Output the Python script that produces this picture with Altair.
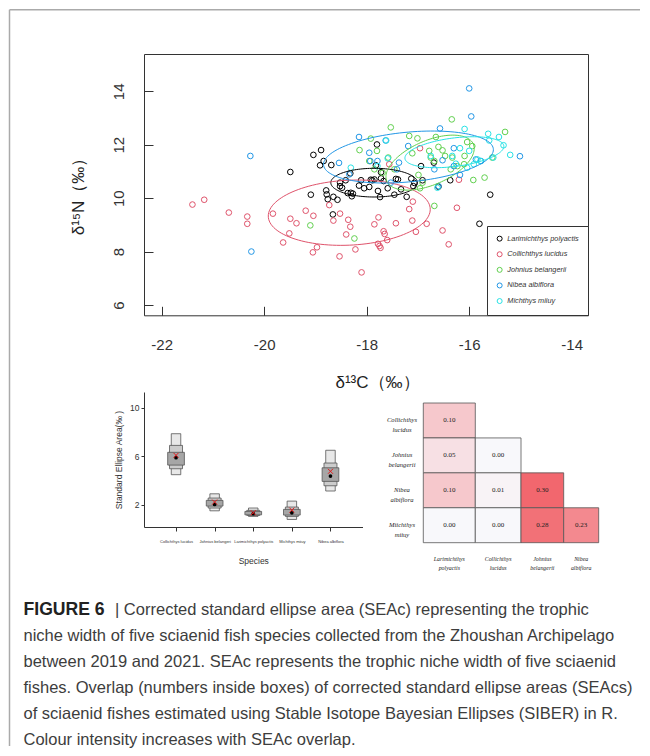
import json
import math
import altair as alt
import pandas as pd

# ---------------- data: scatter (delta13C, delta15N) ----------------
SPECIES = ["Larimichthys polyactis", "Collichthys lucidus", "Johnius belangerii",
           "Nibea albiflora", "Michthys miiuy"]
COLORS = ["#000000", "#DF536B", "#61D04F", "#2297E6", "#28E2E5"]

lp_x = [-19.49, -19.04, -18.89, -18.84, -18.91, -18.69, -19.09, -18.79, -18.78, -18.76, -18.65,
        -18.57, -18.66, -18.52, -18.48, -18.41, -18.32, -18.37, -18.29, -18.27, -18.15, -18.05,
        -17.95, -17.89, -17.85, -17.82, -17.80, -17.78, -17.74, -17.72, -17.72, -17.59, -17.46,
        -17.43, -17.39, -17.33, -17.22, -17.13, -17.09, -17.07, -16.94, -16.91, -16.69, -16.60,
        -16.37, -15.80, -15.59, -17.67, -17.92, -18.11, -18.52, -18.31]
lp_y = [10.98, 11.62, 11.80, 11.39, 11.23, 11.24, 10.13, 10.29, 10.14, 9.96, 10.05,
        9.94, 9.39, 10.45, 10.39, 10.67, 10.93, 10.19, 10.07, 10.17, 10.47, 10.37,
        10.42, 10.67, 10.70, 11.23, 12.01, 10.27, 10.04, 10.74, 10.97, 10.37, 10.13,
        10.72, 10.70, 10.33, 10.05, 10.73, 10.45, 10.57, 11.20, 10.67, 11.33, 10.43,
        10.67, 9.04, 10.13, 10.64, 10.69, 10.67, 10.58, 10.20]

cl_x = [-21.40, -21.17, -20.69, -20.33, -20.33, -19.83, -19.63, -19.51, -19.49, -19.37, -19.19,
        -19.04, -19.05, -18.97, -18.73, -18.65, -18.52, -18.53, -18.40, -18.36, -18.32, -18.22,
        -18.10, -17.85, -17.77, -17.78, -17.73, -17.67, -17.65, -17.60, -17.43, -17.17, -17.10,
        -17.11, -17.04, -16.83, -16.52, -16.40, -16.24, -16.20, -16.96, -17.56, -17.75]
cl_y = [9.76, 9.94, 9.46, 9.31, 9.04, 9.42, 8.34, 8.68, 9.23, 9.06, 9.53,
        9.34, 7.97, 8.16, 9.74, 9.16, 9.42, 7.82, 8.64, 9.19, 8.93, 8.08,
        7.22, 9.02, 9.28, 8.29, 8.14, 8.76, 8.66, 8.43, 9.06, 9.59, 9.87,
        9.16, 8.74, 9.04, 8.79, 8.27, 9.64, 10.69, 11.87, 11.27, 8.21]

jb_x = [-19.10, -18.24, -18.14, -17.92, -17.80, -17.95, -17.53, -17.58, -17.46, -17.17, -17.11,
        -17.01, -16.99, -16.96, -16.78, -16.75, -16.68, -16.65, -16.60, -16.52, -16.47, -16.34,
        -16.33, -16.36, -16.23, -16.09, -16.04, -15.94, -15.92, -15.70, -15.55, -15.30, -16.68,
        -16.91, -17.85, -17.69, -16.10]
jb_y = [8.98, 8.49, 11.80, 12.23, 11.77, 11.39, 12.65, 11.52, 11.08, 12.33, 11.68,
        12.24, 10.87, 10.37, 11.77, 11.52, 11.39, 12.29, 11.92, 11.79, 11.58, 12.95,
        11.52, 11.08, 11.20, 11.58, 12.10, 11.95, 10.68, 10.77, 11.52, 12.48, 9.71,
        10.58, 11.08, 10.95, 11.27]

na_x = [-20.27, -20.25, -18.54, -18.15, -17.95, -17.93, -17.79, -17.63, -17.37, -17.41, -17.19,
        -16.68, -16.57, -16.52, -16.30, -16.18, -16.00, -15.96, -15.87, -15.77, -15.01, -16.60,
        -18.34, -17.53, -16.30]
na_y = [11.58, 8.00, 11.32, 12.29, 11.70, 11.39, 11.39, 12.16, 11.33, 11.08, 11.95,
        11.08, 12.61, 11.42, 11.87, 10.87, 14.11, 13.06, 11.45, 11.39, 11.57, 10.45,
        10.89, 10.58, 11.20]

mm_x = [-18.31, -17.79, -17.59, -17.62, -16.75, -16.62, -16.33, -16.18, -16.09, -16.04, -16.00,
        -15.84, -15.78, -15.63, -15.61, -15.42, -15.33, -15.20, -15.53, -15.91, -16.26]
mm_y = [11.14, 11.20, 11.49, 12.16, 11.58, 10.39, 11.58, 11.87, 12.59, 11.14, 11.77,
        11.45, 11.39, 12.41, 12.16, 12.29, 11.98, 11.62, 11.52, 11.27, 11.29]

# standard ellipse parameters (centre, half-widths, tilt) per species
ell_cx = [-17.855, -18.34, -16.763, -17.185, -16.289]
ell_cy = [10.58, 9.456, 11.33, 11.54, 11.72]
ell_rx = [0.845, 1.58, 0.861, 1.657, 0.965]
ell_ry = [0.537, 1.217, 0.883, 0.934, 0.537]
ell_sy = [0.0, 0.125, 0.53, 0.275, 0.218]

# ---------------- data: SEA density plot ----------------
sea_names = ["Collichthys lucidus", "Johnius belangeri", "Larimichthys polyactis",
             "Michthys miiuy", "Nibea albiflora"]
ci95_lo = [4.49, 1.52, 1.06, 0.81, 3.15]
ci95_hi = [7.86, 2.92, 1.75, 2.32, 6.50]
ci75_lo = [4.98, 1.75, 1.14, 1.06, 3.58]
ci75_hi = [6.90, 2.57, 1.56, 1.83, 5.45]
ci50_lo = [5.28, 1.91, 1.19, 1.17, 3.94]
ci50_hi = [6.33, 2.38, 1.47, 1.64, 5.06]
sea_mode = [5.89, 2.05, 1.28, 1.36, 4.38]
seac = [6.08, 2.24, 1.36, 1.58, 4.77]

# ---------------- data: overlap matrix ----------------
heat_rows = ["Collichthys lucidus", "Johnius belangerii", "Nibea albiflora", "Miichthys miiuy"]
heat_cols = ["Larimichthys polyactis", "Collichthys lucidus", "Johnius belangerii", "Nibea albiflora"]
overlap = [[0.10], [0.05, 0.00], [0.10, 0.01, 0.30], [0.00, 0.00, 0.28, 0.23]]

# ---------------- caption ----------------
cap_bold = "FIGURE 6"
cap_first = "| Corrected standard ellipse area (SEAc) representing the trophic"
cap_lines = [
    "niche width of five sciaenid fish species collected from the Zhoushan Archipelago",
    "between 2019 and 2021. SEAc represents the trophic niche width of five sciaenid",
    "fishes. Overlap (numbers inside boxes) of corrected standard ellipse areas (SEAcs)",
    "of sciaenid fishes estimated using Stable Isotope Bayesian Ellipses (SIBER) in R.",
    "Colour intensity increases with SEAc overlap.",
]

FONT = "Liberation Sans"
SERIF = "Liberation Serif"

# ================= scatter panel =================
pts = []
for sp, xs_, ys_ in zip(SPECIES, [lp_x, cl_x, jb_x, na_x, mm_x], [lp_y, cl_y, jb_y, na_y, mm_y]):
    for a, b in zip(xs_, ys_):
        pts.append({"species": sp, "x": a, "y": b})
pts = pd.DataFrame(pts)

N = 120
ell = []
for k, sp in enumerate(SPECIES):
    for i in range(N + 1):
        t = 2 * math.pi * i / N
        ell.append({"species": sp, "i": i,
                    "x": ell_cx[k] + ell_rx[k] * math.cos(t),
                    "y": ell_cy[k] + ell_ry[k] * math.sin(t) + ell_sy[k] * math.cos(t)})
ell = pd.DataFrame(ell)

xs = alt.Scale(domain=[-22.345, -13.682], nice=False, zero=False)
ys = alt.Scale(domain=[5.613, 15.398], nice=False, zero=False)
sp_scale = alt.Scale(domain=SPECIES, range=COLORS)

x_axis = alt.Axis(values=[-22, -20, -18, -16, -14], labelExpr="toString(datum.value)",
                  offset=-9, tickSize=9, domain=False, grid=False, labelFontSize=15,
                  labelPadding=22, labelColor="#333", tickColor="#333", labelFlush=False,
                  title="δ¹³C（‰）", titleFontSize=17, titleFontWeight="normal", titleColor="#222",
                  titleX=233, titleY=81, titleBaseline="alphabetic", titleAlign="center")
y_axis = alt.Axis(values=[6, 8, 10, 12, 14], offset=-9, tickSize=9, domain=False, grid=False,
                  labelFontSize=15, labelAngle=270, labelAlign="center", labelBaseline="bottom",
                  labelPadding=18, labelColor="#333", tickColor="#333", labelFlush=False,
                  title="δ¹⁵N（‰）", titleFontSize=17, titleFontWeight="normal", titleColor="#222",
                  titleAngle=270, titleX=-75, titleY=138, titleAlign="center", titleBaseline="middle")

points = alt.Chart(pts).mark_point(filled=False, size=32, strokeWidth=1, opacity=1).encode(
    x=alt.X("x:Q", scale=xs, axis=x_axis),
    y=alt.Y("y:Q", scale=ys, axis=y_axis),
    color=alt.Color("species:N", scale=sp_scale,
                    legend=alt.Legend(title=None, orient="bottom-right", offset=0, padding=9,
                                      strokeColor="#333", fillColor="white", labelFontSize=7.3,
                                      labelFontStyle="italic", labelColor="#333", symbolSize=25,
                                      symbolStrokeWidth=1, rowPadding=5.6, labelOffset=4,
                                      symbolType="circle", labelLimit=300)),
)
ellipses = alt.Chart(ell).mark_line(strokeWidth=1).encode(
    x=alt.X("x:Q", scale=xs),
    y=alt.Y("y:Q", scale=ys),
    detail="species:N",
    order="i:Q",
    stroke=alt.Stroke("species:N", scale=sp_scale, legend=None),
)
one = pd.DataFrame({"d": [0]})
frame_v = alt.Chart(one).mark_rule(color="#aaaaaa", strokeWidth=1.5).encode(
    x=alt.value(-134.5), y=alt.value(-44.25), y2=alt.value(692))
frame_h = alt.Chart(one).mark_rule(color="#aaaaaa", strokeWidth=1.5).encode(
    x=alt.value(-134.5), x2=alt.value(496), y=alt.value(-44.25))

scatter = alt.layer(points, ellipses, frame_v, frame_h).properties(
    width=444, height=261.3, view=alt.ViewBackground(stroke="#333", strokeWidth=1))

# ================= SEA panel =================
sea = pd.DataFrame({"idx": [1, 2, 3, 4, 5], "name": sea_names,
                    "lo95": ci95_lo, "hi95": ci95_hi, "lo75": ci75_lo, "hi75": ci75_hi,
                    "lo50": ci50_lo, "hi50": ci50_hi, "mode": sea_mode, "seac": seac})
xs2 = alt.Scale(domain=[0.3, 5.7], nice=False, zero=False)
ys2 = alt.Scale(domain=[0.19, 11.29], nice=False, zero=False)
name_expr = json.dumps(sea_names) + "[datum.value - 1]"
sea_xaxis = alt.Axis(values=[1, 2, 3, 4, 5], labelExpr=name_expr, labelFontSize=4, tickSize=4,
                     labelPadding=8, labelColor="#333", tickColor="#333", domainColor="#333",
                     labelFlush=False, labelOverlap=False, grid=False,
                     title="Species", titleFontSize=8.5, titleFontWeight="normal",
                     titleColor="#333", titlePadding=13)
sea_yaxis = alt.Axis(values=[2, 4, 6, 8, 10], tickSize=3, labelFontSize=8.5, labelPadding=2,
                     labelColor="#333", tickColor="#333", domainColor="#333", grid=False,
                     labelFlush=False, title="Standard Ellipse Area(‰ )", titleFontSize=8.5,
                     titleFontWeight="normal", titleColor="#333", titlePadding=6)

base = alt.Chart(sea)
b95 = base.mark_bar(size=9.5, fill="#e8e8e8", stroke="#555", strokeWidth=0.8, orient="vertical").encode(
    x=alt.X("idx:Q", scale=xs2, axis=sea_xaxis),
    y=alt.Y("lo95:Q", scale=ys2, axis=sea_yaxis), y2="hi95:Q")
b75 = base.mark_bar(size=13, fill="#cccccc", stroke="#555", strokeWidth=0.8, orient="vertical").encode(
    x=alt.X("idx:Q", scale=xs2), y=alt.Y("lo75:Q", scale=ys2), y2="hi75:Q")
b50 = base.mark_bar(size=16.7, fill="#a6a6a6", stroke="#555", strokeWidth=0.8, orient="vertical").encode(
    x=alt.X("idx:Q", scale=xs2), y=alt.Y("lo50:Q", scale=ys2), y2="hi50:Q")
dots = base.mark_point(filled=True, size=14, color="black", opacity=1).encode(
    x=alt.X("idx:Q", scale=xs2), y=alt.Y("mode:Q", scale=ys2))
crosses = base.mark_point(shape="M-1,-1L1,1M-1,1L1,-1", filled=False, size=25, color="#e41a1c",
                          strokeWidth=1, opacity=1).encode(
    x=alt.X("idx:Q", scale=xs2), y=alt.Y("seac:Q", scale=ys2))
sea_layer = alt.layer(b95, b75, b50, dots, crosses)

# ================= overlap matrix (own scales) =================
cells = []
for r, row in enumerate(overlap):
    for c, v in enumerate(row):
        cells.append({"r": r, "r1": r + 1, "c": c, "c1": c + 1, "cx": c + 0.5, "ry": r + 0.5,
                      "val": v, "lab": f"{v:.2f}"})
cells = pd.DataFrame(cells)
rowlab = pd.DataFrame({"ry": [i + 0.5 for i in range(len(heat_rows))],
                       "t": [n.replace(" ", "\n") for n in heat_rows]})
collab = pd.DataFrame({"cx": [i + 0.5 for i in range(len(heat_cols))],
                       "t": [n.replace(" ", "\n") for n in heat_cols]})

hx = alt.Scale(domain=[0, 1, 2, 3, 4], range=[279.3, 331.3, 377, 419.7, 454.7], nice=False, zero=False)
hy = alt.Scale(domain=[0, 4], range=[11, 150.7], nice=False, zero=False)
ROW_LABEL_X = -0.41
COL_LABEL_Y = 4.48

rects = alt.Chart(cells).mark_rect(stroke="#555", strokeWidth=0.8).encode(
    x=alt.X("c:Q", scale=hx, axis=None), x2="c1:Q",
    y=alt.Y("r:Q", scale=hy, axis=None), y2="r1:Q",
    color=alt.Color("val:Q", scale=alt.Scale(domain=[0, 0.3], range=["#f8f8fb", "#f2676e"],
                                             interpolate="rgb"), legend=None))
ctext = alt.Chart(cells).mark_text(font=SERIF, fontSize=7, color="#222").encode(
    x=alt.X("cx:Q", scale=hx, axis=None), y=alt.Y("ry:Q", scale=hy, axis=None), text="lab:N")
rtext = alt.Chart(rowlab).mark_text(font=SERIF, fontStyle="italic", fontSize=6.6, lineBreak="\n",
                                    lineHeight=10, align="center", baseline="middle", color="#222").encode(
    x=alt.X(datum=ROW_LABEL_X, scale=hx, axis=None), y=alt.Y("ry:Q", scale=hy, axis=None), text="t:N")
coltext = alt.Chart(collab).mark_text(font=SERIF, fontStyle="italic", fontSize=5.9, lineBreak="\n",
                                      lineHeight=8.4, align="center", baseline="middle", color="#222").encode(
    x=alt.X("cx:Q", scale=hx, axis=None), y=alt.Y(datum=COL_LABEL_Y, scale=hy, axis=None), text="t:N")
heat_layer = alt.layer(rects, ctext, rtext, coltext)

middle = alt.layer(sea_layer, heat_layer).resolve_scale(x="independent", y="independent").properties(
    width=218.5, height=135)

# ================= caption =================
cy = alt.Scale(domain=[0, 5], range=[11.5, 141.5])
cap0 = pd.DataFrame({"i": [0], "t": [cap_bold]})
cap0b = pd.DataFrame({"i": [0], "t": [cap_first]})
capn = pd.DataFrame({"i": list(range(1, len(cap_lines) + 1)), "t": cap_lines})
c_bold = alt.Chart(cap0).mark_text(fontWeight="bold", fontSize=17.6, align="left", baseline="alphabetic",
                                   color="#222").encode(
    x=alt.value(-120.5), y=alt.Y("i:Q", scale=cy, axis=None), text="t:N")
c_first = alt.Chart(cap0b).mark_text(fontSize=16.5, align="left", baseline="alphabetic", color="#3d3d3d").encode(
    x=alt.value(-29), y=alt.Y("i:Q", scale=cy, axis=None), text="t:N")
c_rest = alt.Chart(capn).mark_text(fontSize=16.5, align="left", baseline="alphabetic", color="#3d3d3d").encode(
    x=alt.value(-120.5), y=alt.Y("i:Q", scale=cy, axis=None), text="t:N")
caption = alt.layer(c_bold, c_first, c_rest).properties(width=444, height=144)

chart = alt.vconcat(scatter, middle, caption, spacing=76, bounds="flush").resolve_scale(
    color="independent", stroke="independent").properties(padding=0).configure(
    font=FONT).configure_view(stroke="transparent")

chart.save("out.html", embed_options={"renderer": "svg", "actions": False})
